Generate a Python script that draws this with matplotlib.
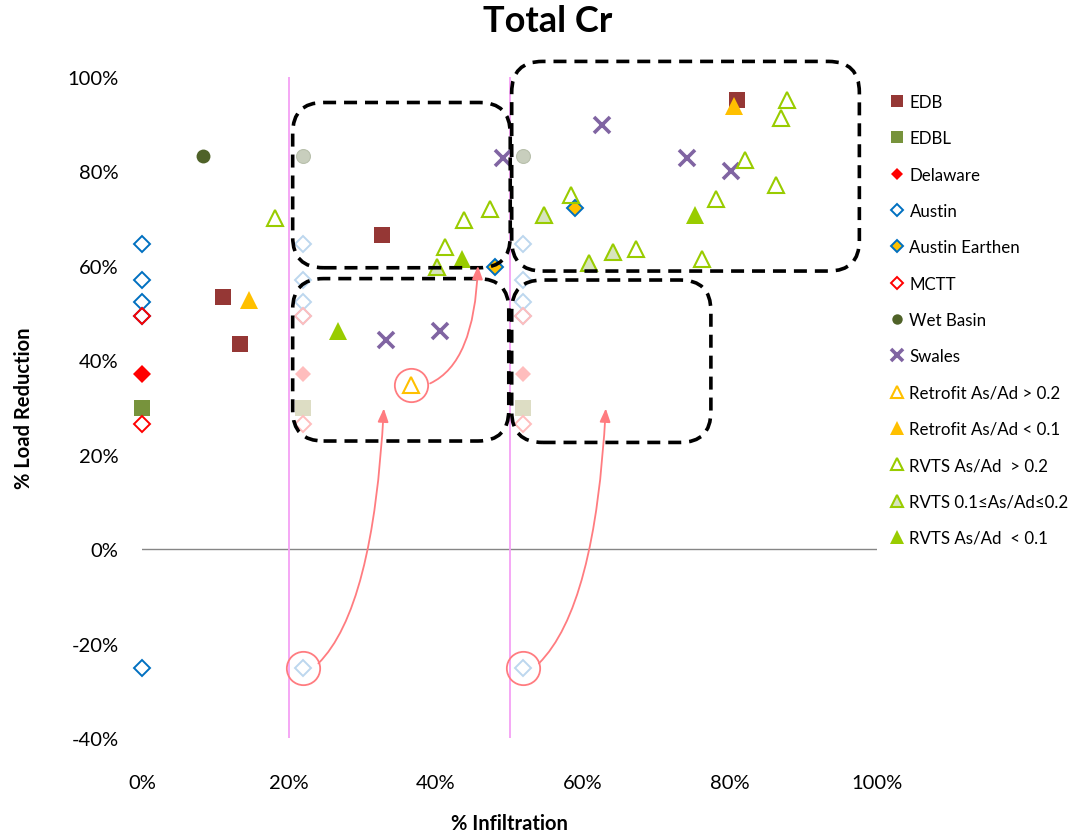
import matplotlib
matplotlib.use("Agg")
import matplotlib.pyplot as plt
from matplotlib.patches import FancyBboxPatch, FancyArrowPatch
from matplotlib.ticker import FuncFormatter

plt.rcParams['font.family'] = ['Lato', 'DejaVu Sans']

# data (% infiltration, % load reduction)
edb_x = [11.0, 13.4, 32.7, 80.9]
edb_y = [53.5, 43.5, 66.5, 95.2]
edbl_x = [0]
edbl_y = [29.8]
delaware_x = [0]
delaware_y = [37.2]
austin_x = [0, 0, 0, 0, 0]
austin_y = [64.7, 57.0, 52.3, 49.4, -25.2]
earthen_x = [48.0, 58.9]
earthen_y = [59.8, 72.3]
mctt_x = [0, 0]
mctt_y = [49.4, 26.4]
wet_x = [8.3]
wet_y = [83.2]
swales_x = [49.1, 62.6, 74.2, 80.2, 33.2, 40.5]
swales_y = [82.9, 89.8, 82.9, 80.1, 44.4, 46.3]
retro_hi_x = [36.6]
retro_hi_y = [34.8]
retro_lo_x = [14.5, 80.6]
retro_lo_y = [52.8, 93.8]
rvts_hi_x = [18.1, 47.3, 43.8, 41.2, 87.7, 86.9, 82.0, 86.3, 78.1, 58.3, 67.2, 76.2]
rvts_hi_y = [70.2, 72.0, 69.8, 63.9, 95.2, 91.4, 82.5, 77.2, 74.1, 75.1, 63.6, 61.4]
rvts_mid_x = [40.2, 54.7, 64.1, 60.8]
rvts_mid_y = [59.8, 70.7, 62.9, 60.7]
rvts_lo_x = [43.6, 75.3, 26.6]
rvts_lo_y = [61.5, 70.7, 46.2]

# shifted "ghost" copies of the 0% points
ghost_pos = [21.9, 51.8]
ghost_austin_y = [64.7, 57.0, 52.3, 49.4]
ghost_austin_low_y = [-25.2]
ghost_delaware_y = [37.2]
ghost_edbl_y = [29.8]
ghost_mctt_y = [49.4, 26.4]
ghost_wet_y = [83.2]

# circled points
circled_x = [36.6, 21.9, 51.8]
circled_y = [34.8, -25.2, -25.2]

# dashed boxes: (x0, y0, x1, y1)
boxes = [(20.5, 59.6, 50.1, 94.6),
         (20.5, 22.9, 49.9, 57.3),
         (50.3, 58.9, 97.6, 103.3),
         (50.3, 22.6, 77.4, 57.0)]

# arrows: start, end, start angle, end angle
arrows = [((39.2, 35.1), (45.7, 60.0), 25, 88),
          ((24.0, -24.2), (32.9, 29.8), 45, 87),
          ((54.0, -24.2), (63.1, 29.8), 45, 87)]

fig = plt.figure(figsize=(10.76, 8.37), dpi=100)
ax = fig.add_axes([142 / 1076, 1 - 739 / 837, 735 / 1076, 661 / 837])

def pts(x, y, **kw):
    ax.plot(x, y, linestyle='none', clip_on=False, **kw)

# ghosts (no legend)
for gx in ghost_pos:
    pts([gx] * 4, ghost_austin_y, marker='D', ms=8.5, mfc='white', mec='#BDD7EE', mew=1.4)
    pts([gx], ghost_delaware_y, marker='D', ms=8.5, mfc='#FFBDBD', mec='#FFBDBD', mew=0)
    pts([gx], ghost_edbl_y, marker='s', ms=11, mfc='#DDDDC4', mec='#DDDDC4', mew=0)
    pts([gx] * 2, ghost_mctt_y, marker='D', ms=8.5, mfc='none', mec='#FFBDBD', mew=1.4)
    pts([gx], ghost_wet_y, marker='o', ms=10, mfc='#C8CEBD', mec='#B8C0AC', mew=0.8)
    pts([gx], ghost_austin_low_y, marker='D', ms=8.5, mfc='white', mec='#BDD7EE', mew=1.4)

pts(edb_x, edb_y, marker='s', ms=11, mfc='#953735', mec='#953735', mew=0, label='EDB')
pts(edbl_x, edbl_y, marker='s', ms=11, mfc='#77933C', mec='#77933C', mew=0, label='EDBL')
pts(delaware_x, delaware_y, marker='D', ms=8.8, mfc='#FF0000', mec='#FF0000', mew=0, label='Delaware')
pts(austin_x, austin_y, marker='D', ms=8.5, mfc='white', mec='#0070C0', mew=1.4, label='Austin')
pts(earthen_x, earthen_y, marker='D', ms=8.5, mfc='#FFC000', mec='#0070C0', mew=1.4, label='Austin Earthen')
pts(mctt_x, mctt_y, marker='D', ms=8.5, mfc='none', mec='#FF0000', mew=1.4, label='MCTT')
pts(wet_x, wet_y, marker='o', ms=10, mfc='#4F6228', mec='#4F6228', mew=0, label='Wet Basin')
pts(swales_x, swales_y, marker='x', ms=12, mec='#8064A2', mew=2.6, label='Swales')
pts(retro_hi_x, retro_hi_y, marker='^', ms=11, mfc='none', mec='#FFC000', mew=1.5, label='Retrofit As/Ad > 0.2')
pts(retro_lo_x, retro_lo_y, marker='^', ms=12.5, mfc='#FFC000', mec='#FFC000', mew=0, label='Retrofit As/Ad < 0.1')
pts(rvts_hi_x, rvts_hi_y, marker='^', ms=11, mfc='none', mec='#99CC00', mew=1.5, label='RVTS As/Ad  > 0.2')
pts(rvts_mid_x, rvts_mid_y, marker='^', ms=11, mfc='#D7E4BD', mec='#99CC00', mew=1.5, label='RVTS 0.1≤As/Ad≤0.2')
pts(rvts_lo_x, rvts_lo_y, marker='^', ms=12.5, mfc='#99CC00', mec='#99CC00', mew=0, label='RVTS As/Ad  < 0.1')

# red circles around points
pts(circled_x, circled_y, marker='o', ms=24, mfc='none', mec='#FF7C80', mew=1.3, zorder=4)

# reference lines
ax.axhline(0, color='#868686', lw=1.0, zorder=1)
for xv in [20, 50]:
    ax.axvline(xv, ymin=0, ymax=1, color='#F4A0F4', lw=1.3, zorder=1)

# rounded dashed boxes
asp = (1 / 4.725) / (1 / 7.35)
for x0, y0, x1, y1 in boxes:
    p = FancyBboxPatch((x0, y0), x1 - x0, y1 - y0,
                       boxstyle='round,pad=0,rounding_size=4.2',
                       mutation_aspect=asp, fill=False, ec='black',
                       lw=2.6, linestyle=(0, (3.6, 2.2)), clip_on=False, zorder=5)
    ax.add_patch(p)

for (x0, y0), (x1, y1), a0, a1 in arrows:
    a = FancyArrowPatch((x0, y0), (x1, y1),
                        connectionstyle=f'angle3,angleA={a0},angleB={a1}',
                        arrowstyle='-|>,head_length=8,head_width=3.2',
                        color='#FF7C80', lw=1.3, clip_on=False, zorder=6,
                        shrinkA=0, shrinkB=0)
    ax.add_patch(a)

ax.set_xlim(0, 100)
ax.set_ylim(-40, 100)
ax.set_xticks(range(0, 101, 20))
ax.set_yticks(range(-40, 101, 20))
pct = FuncFormatter(lambda v, p: f'{v:.0f}%')
ax.xaxis.set_major_formatter(pct)
ax.yaxis.set_major_formatter(pct)
ax.tick_params(length=0, labelsize=14.5)
ax.tick_params(axis='x', pad=26)
ax.tick_params(axis='y', pad=17)
for s in ax.spines.values():
    s.set_visible(False)

ax.set_xlabel('% Infiltration', fontsize=14.5, fontweight='bold', labelpad=16)
ax.set_ylabel('% Load Reduction', fontsize=14.5, fontweight='bold', labelpad=24)
fig.text(548 / 1076, 1 - 22 / 837, 'Total Cr', fontsize=26, fontweight='bold',
         ha='center', va='center')

ax.legend(loc='upper left', bbox_to_anchor=(890 / 1076, 1 - 95 / 837),
          bbox_transform=fig.transFigure, frameon=False, fontsize=12.2,
          labelspacing=1.2, handlelength=0.8, handletextpad=0.35,
          markerscale=0.75, borderpad=0, borderaxespad=0)

fig.savefig('out.png', dpi=100)
